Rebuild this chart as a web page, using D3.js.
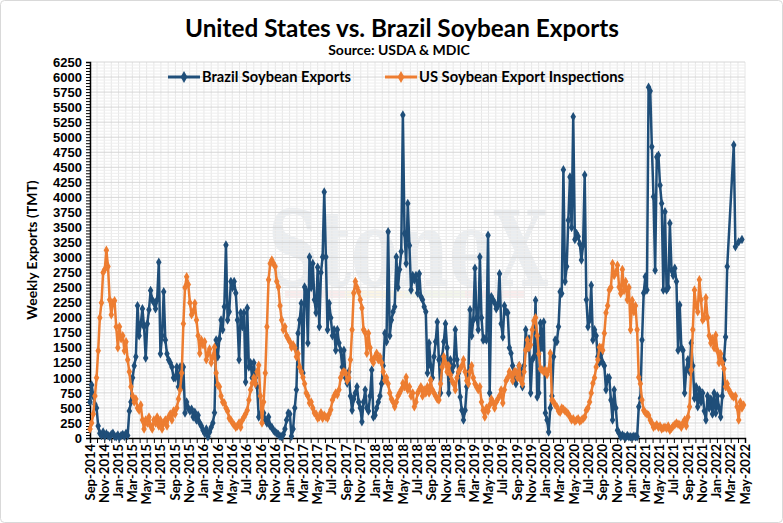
<!DOCTYPE html>
<html>
<head>
<meta charset="utf-8">
<script src="https://cdn.jsdelivr.net/npm/d3@7"></script>
<style>
  body { margin: 0; background: #fff; }
  text { font-family: Lato, "Open Sans", sans-serif; font-weight: bold; fill: #000; }
</style>
</head>
<body>
<svg id="chart" width="783" height="523"></svg>
<script>
// weekly values (TMT), one array per marketing year (Sep - Aug)
var startDate = new Date(2014, 8, 1);

var brazil2014 = [600, 880, 700, 560, 500, 200, 80, 40, 100, 30, 70, 40, 20, 60, 80, 30, 20, 50, 10, 40, 60, 30, 80, 40, 450, 600, 1000, 1200, 1350, 2200, 1700, 1900, 2150, 1850, 1330, 1900, 2130, 2450, 2300, 2250, 2150, 2300, 2920, 1400, 1700, 2430, 1630, 1400, 1300, 1250, 1180, 1000];
var brazil2015 = [1000, 1180, 850, 1180, 850, 1180, 415, 600, 500, 450, 480, 350, 430, 300, 380, 250, 200, 130, 80, 150, 20, 100, 180, 250, 420, 1630, 1350, 1650, 1960, 1800, 2180, 3210, 1960, 2100, 2600, 2500, 2600, 2410, 1960, 1300, 2080, 1850, 2080, 930, 2160, 1180, 1250, 1000, 1250, 1000, 850, 350];
var brazil2016 = [400, 380, 415, 300, 250, 350, 200, 180, 130, 100, 80, 60, 30, 20, 60, 150, 300, 415, 400, 30, 150, 500, 800, 1740, 1960, 2240, 1080, 2510, 2450, 1580, 3010, 2500, 2900, 2300, 2080, 2840, 1850, 2750, 3010, 4090, 3010, 1800, 2240, 2000, 1700, 1800, 1460, 1800, 1580, 1460, 1180, 1460];
var brazil2017 = [1000, 910, 1100, 700, 460, 650, 750, 850, 600, 500, 270, 600, 800, 500, 450, 700, 1130, 350, 380, 500, 600, 700, 900, 1200, 1740, 1600, 3430, 1700, 1960, 2100, 2180, 3010, 2500, 2800, 3100, 5370, 3400, 2900, 3900, 3200, 2460, 2700, 2630, 2700, 2410, 2730, 2350, 2300, 2180, 2100, 1080, 1580];
var brazil2018 = [1200, 1000, 1350, 1600, 1930, 1300, 750, 1350, 1600, 1900, 1500, 750, 1300, 1100, 1200, 1800, 1300, 1080, 680, 460, 300, 460, 850, 1080, 2130, 1700, 1960, 2820, 2000, 1800, 3010, 2000, 1630, 1650, 1630, 3370, 750, 2350, 2300, 2250, 2150, 2200, 2730, 1900, 1680, 2200, 2100, 2080, 1500, 1410, 1200, 1000];
var brazil2019 = [900, 1000, 1200, 1130, 850, 1200, 1800, 1500, 1650, 750, 1300, 1350, 2290, 680, 750, 1910, 1500, 1930, 415, 300, 100, 500, 700, 1350, 1630, 1600, 1850, 2430, 2400, 4460, 2600, 2850, 3620, 4340, 3500, 5340, 3300, 3400, 3350, 3230, 2960, 3200, 4370, 2300, 1850, 1960, 2540, 1630, 1800, 1700, 1350, 1250];
var brazil2020 = [1400, 1250, 1200, 800, 1000, 1000, 630, 300, 800, 500, 130, 80, 20, 50, 30, 10, 40, 20, 20, 15, 30, 20, 20, 520, 660, 1630, 2410, 2680, 2460, 5830, 5770, 4840, 4010, 2790, 4670, 4700, 4200, 3900, 2460, 3760, 2460, 2500, 3570, 2790, 2700, 2820, 2600, 1460, 2210, 1500, 1460, 750];
var brazil2021 = [1130, 1300, 1100, 1580, 1200, 660, 850, 520, 800, 600, 750, 450, 300, 700, 500, 650, 400, 750, 415, 700, 500, 350, 700, 1300, 1680, 2850, null, null, null, 4870, 3180, null, 3260, null, 3300];

var us2014 = [150, 250, 400, 700, 1000, 1450, 2000, 2250, 2750, 2800, 3120, 2850, 2300, 2050, 2250, 2280, 1850, 1500, 1850, 1650, 1700, 1450, 1600, 1300, 1100, 850, 700, 600, 650, 500, 460, 550, 300, 150, 300, 250, 350, 200, 150, 300, 250, 350, 200, 300, 150, 250, 300, 200, 350, 400, 300, 450];
var us2015 = [400, 500, 650, 800, 1080, 1900, 2500, 2680, 2550, 2250, 2050, 2100, 2240, 1960, 1700, 1410, 1630, 1550, 1600, 1300, 1400, 1480, 1250, 1350, 1510, 1080, 880, 850, 700, 600, 580, 500, 450, 330, 300, 250, 215, 180, 200, 250, 180, 300, 350, 400, 460, 630, 800, 910, 1000, 900, 1100, 1210];
var us2016 = [700, 250, 600, 1080, 1850, 2630, 2900, 2960, 2900, 2850, 2600, 2510, 2200, 1960, 1800, 1850, 1700, 1650, 1600, 1510, 1550, 1500, 1350, 1400, 1180, 1100, 1010, 900, 750, 700, 580, 600, 500, 415, 400, 330, 350, 420, 330, 380, 350, 330, 400, 470, 630, 700, 750, 720, 800, 1000, 1080, 1100];
var us2017 = [1080, 950, 1000, 1300, 1800, 2410, 2600, 2500, 2430, 2300, 2160, 1800, 1750, 1410, 1740, 1500, 1300, 1250, 1350, 1410, 1300, 1350, 1250, 1100, 960, 1000, 900, 750, 650, 600, 520, 600, 700, 750, 800, 910, 850, 1010, 800, 850, 700, 750, 520, 600, 750, 800, 850, 700, 800, 750, 850, 750];
var us2018 = [960, 800, 750, 700, 650, 630, 900, 1180, 1350, 1250, 1100, 1200, 1050, 950, 900, 800, 1000, 1100, 1150, 1200, 1300, 1100, 950, 900, 1100, 1200, 1000, 900, 850, 800, 850, 600, 460, 350, 500, 450, 550, 650, 600, 500, 600, 650, 700, 800, 580, 800, 950, 1000, 1100, 1050, 950, 1100];
var us2019 = [1100, 1000, 1200, 960, 900, 1100, 1460, 1630, 1500, 1550, 1800, 1950, 2000, 1700, 1400, 1150, 1130, 1100, 1130, 1050, 1130, 1410, 630, 600, 550, 520, 450, 430, 500, 480, 450, 430, 400, 350, 300, 320, 280, 300, 320, 280, 300, 320, 350, 460, 500, 600, 750, 910, 1000, 1180, 1300, 1510];
var us2020 = [1500, 1460, 1740, 2080, 2200, 2460, 2500, 2900, 2700, 2750, 2870, 2510, 2400, 2800, 2450, 2600, 2300, 2500, 1800, 2290, 2100, 2200, 1800, 1010, 900, 630, 460, 420, 400, 380, 300, 250, 180, 200, 220, 180, 200, 150, 170, 180, 160, 200, 130, 160, 200, 220, 250, 230, 220, 180, 250, 300];
var us2021 = [200, 350, 520, 1130, 1800, 2460, 2200, 2100, 2630, 2300, 1960, 2000, 2330, 2000, 1700, 1580, 1650, 1500, 1710, 1450, 1250, 1400, 1250, 1150, 850, 900, 800, 750, 700, 680, 700, 520, 300, 600, 500, 550];

var yTicks = d3.range(0, 6251, 250);
var seriesNames = ["Brazil Soybean Exports", "US Soybean Export Inspections"];
var seriesColors = ["#1f4e79", "#ed7d31"];

var brazilWeekly = [].concat(brazil2014, brazil2015, brazil2016, brazil2017, brazil2018, brazil2019, brazil2020, brazil2021);
var usWeekly = [].concat(us2014, us2015, us2016, us2017, us2018, us2019, us2020, us2021);

function toPoints(values) {
  return values.map(function(v, i) {
    return { date: d3.timeDay.offset(startDate, 7 * i), value: v };
  }).filter(function(d) { return d.value !== null; });
}

var series = [toPoints(brazilWeekly), toPoints(usWeekly)];

var svg = d3.select("#chart");

// chart border
svg.append("rect")
  .attr("x", 0.5).attr("y", 0.5)
  .attr("width", 782).attr("height", 522)
  .attr("rx", 4)
  .style("fill", "#fff")
  .style("stroke", "#d9d9d9");

var x = d3.scaleTime()
  .domain([startDate, new Date(2022, 4, 1)])
  .range([90, 745]);
var y = d3.scaleLinear()
  .domain([0, 6250])
  .range([438, 62]);

// watermark
var wm = svg.append("g").style("opacity", 0.35);
wm.append("text")
  .attr("x", 268).attr("y", 286)
  .attr("textLength", 280)
  .attr("lengthAdjust", "spacingAndGlyphs")
  .style("font-family", "'DejaVu Serif', serif")
  .style("font-size", "104px")
  .style("fill", "#c5ccd6")
  .text("StoneX");
var stripeColors = ["#f2c9c9", "#f5e3b5", "#dfe6c8", "#f2c9c9"];
stripeColors.forEach(function(c, i) {
  wm.append("rect")
    .attr("x", 285 + i * 60).attr("y", 290)
    .attr("width", 60).attr("height", 8)
    .style("fill", c);
});

// grid
var grid = svg.append("g");
grid.selectAll(".vgrid")
  .data(x.ticks(d3.timeMonth.every(1)))
  .enter().append("line")
  .attr("x1", function(d) { return x(d); })
  .attr("x2", function(d) { return x(d); })
  .attr("y1", y(6250)).attr("y2", y(0))
  .style("stroke", "#e6e6e6").style("stroke-width", 1);
grid.selectAll(".minor")
  .data(d3.range(50, 6250, 50).filter(function(v) { return v % 250 !== 0; }))
  .enter().append("line")
  .attr("x1", 90).attr("x2", 745)
  .attr("y1", function(d) { return y(d); })
  .attr("y2", function(d) { return y(d); })
  .style("stroke", "#eeeeee").style("stroke-width", 1);
grid.selectAll(".major")
  .data(yTicks.slice(1))
  .enter().append("line")
  .attr("x1", 90).attr("x2", 745)
  .attr("y1", function(d) { return y(d); })
  .attr("y2", function(d) { return y(d); })
  .style("stroke", "#d6d6d6").style("stroke-width", 1);

// y axis: minor ticks every 50, labels every 250
var yAxis = svg.append("g").attr("transform", "translate(90,0)");
yAxis.call(d3.axisLeft(y).tickValues(d3.range(0, 6251, 50)).tickSize(4).tickFormat(""));
yAxis.select(".domain").style("stroke", "#000").style("stroke-width", 1.5);
yAxis.selectAll(".tick line").style("stroke", "#000");
svg.append("g").selectAll("text")
  .data(yTicks)
  .enter().append("text")
  .attr("x", 82)
  .attr("y", function(d) { return y(d); })
  .attr("dy", "0.36em")
  .attr("text-anchor", "end")
  .style("font-family", "'Liberation Sans', Arial, sans-serif")
  .style("font-size", "13px")
  .text(function(d) { return d; });

// x axis: monthly ticks, labels every two months
var xAxis = svg.append("g").attr("transform", "translate(0,438)");
xAxis.call(d3.axisBottom(x).ticks(d3.timeMonth.every(1)).tickSize(5).tickFormat(""));
xAxis.select(".domain").style("stroke", "#000").style("stroke-width", 1.5);
xAxis.selectAll(".tick line").style("stroke", "#000");
svg.append("g").selectAll("text")
  .data(x.ticks(d3.timeMonth.every(2)))
  .enter().append("text")
  .attr("transform", function(d) { return "translate(" + (x(d) + 4.5) + ",444) rotate(-90)"; })
  .attr("text-anchor", "end")
  .style("font-size", "13px")
  .text(d3.timeFormat("%b-%Y"));

// axis title
svg.append("text")
  .attr("transform", "translate(37,250) rotate(-90)")
  .attr("text-anchor", "middle")
  .style("font-size", "14px")
  .text("Weekly Exports (TMT)");

// series
var line = d3.line()
  .x(function(d) { return x(d.date); })
  .y(function(d) { return y(d.value); });
var diamond = d3.symbol().type(d3.symbolDiamond).size(26);

series.forEach(function(pts, i) {
  var g = svg.append("g");
  g.append("path")
    .datum(pts)
    .attr("d", line)
    .style("fill", "none")
    .style("stroke", seriesColors[i])
    .style("stroke-width", 2.5)
    .style("stroke-linejoin", "round");
  g.selectAll("path.pt")
    .data(pts)
    .enter().append("path")
    .attr("class", "pt")
    .attr("d", diamond)
    .attr("transform", function(d) { return "translate(" + x(d.date) + "," + y(d.value) + ")"; })
    .style("fill", seriesColors[i]);
});

// legend
var legendX = [168, 385];
var legendW = [149, 205];
seriesNames.forEach(function(name, i) {
  var lg = svg.append("g").attr("transform", "translate(" + legendX[i] + ",77)");
  lg.append("line")
    .attr("x1", 0).attr("x2", 32)
    .style("stroke", seriesColors[i]).style("stroke-width", 3);
  lg.append("path")
    .attr("d", d3.symbol().type(d3.symbolDiamond).size(40))
    .attr("transform", "translate(16,0)")
    .style("fill", seriesColors[i]);
  lg.append("text")
    .attr("x", 34).attr("dy", "0.35em")
    .attr("textLength", legendW[i])
    .attr("lengthAdjust", "spacingAndGlyphs")
    .style("font-size", "15px")
    .text(name);
});

// titles
svg.append("text")
  .attr("x", 402).attr("y", 37)
  .attr("text-anchor", "middle")
  .attr("textLength", 434)
  .attr("lengthAdjust", "spacingAndGlyphs")
  .style("font-size", "24px")
  .text("United States vs. Brazil Soybean Exports");
svg.append("text")
  .attr("x", 399).attr("y", 55)
  .attr("text-anchor", "middle")
  .style("font-size", "14px")
  .text("Source: USDA & MDIC");
</script>
</body>
</html>
